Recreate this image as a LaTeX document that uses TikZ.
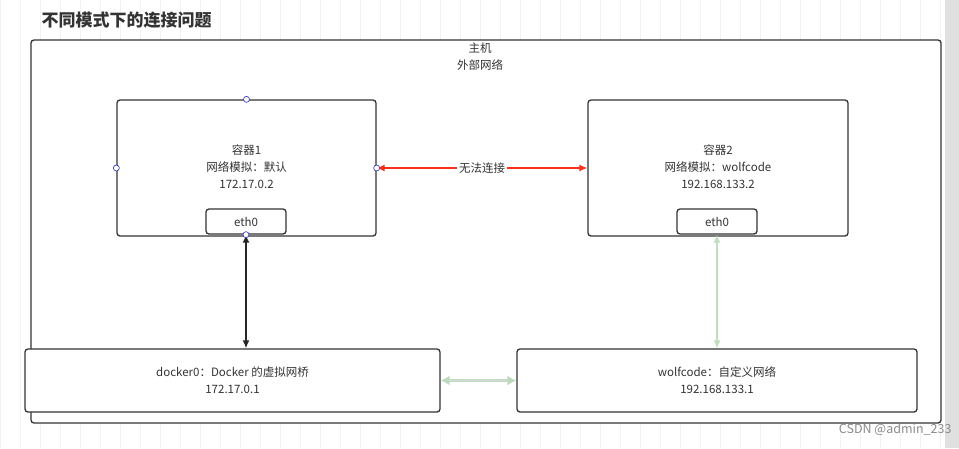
\documentclass[tikz,border=0pt]{standalone}
\usepackage{fontspec}
\setmainfont{Noto Sans CJK SC}
\usetikzlibrary{arrows.meta}
\begin{document}
\begin{tikzpicture}[x=1pt,y=-1pt,
  box/.style={draw=black!80,line width=1.3pt,rounded corners=3pt,fill=white},
  txt/.style={font=\fontsize{11.5}{17}\selectfont,align=center,text=black!80},
  handle/.style={circle,draw=blue!50!gray,fill=white,inner sep=0pt,minimum size=6pt,line width=0.7pt}]
\useasboundingbox (0,0) rectangle (959,448);
\fill[white] (0,0) rectangle (959,448);
\draw[black!5,step=20] (0,0) grid (959,448);
\fill[black!12] (945,0) rectangle (959,448);
\node[anchor=west,font=\bfseries\fontsize{17}{20}\selectfont,text=black!80] (title) at (38,20) {不同模式下的连接问题};
\draw[box] (31,40) rectangle (941,423);
\node[txt] (host) at (480,57) {主机\\外部网络};
\node[box,minimum width=259,minimum height=136,inner sep=0] (c1) at (246.5,168) {};
\node[txt] at (246.5,167) {容器1\\网络模拟：默认\\172.17.0.2};
\node[box,minimum width=80,minimum height=25,txt] (e1) at (246,221.5) {eth0};
\node[box,minimum width=260,minimum height=136,inner sep=0] (c2) at (718,168) {};
\node[txt] at (718,167) {容器2\\网络模拟：wolfcode\\192.168.133.2};
\node[box,minimum width=80,minimum height=25,txt] (e2) at (717,221.5) {eth0};
\node[box,minimum width=415,minimum height=63,txt] (b1) at (232.5,380.5) {docker0：Docker 的虚拟网桥\\172.17.0.1};
\node[box,minimum width=400,minimum height=63,txt] (b2) at (717,380.5) {wolfcode：自定义网络\\192.168.133.1};
\draw[red!80!orange!90!white,line width=1.3pt,{Latex[length=8pt,width=7pt]}-{Latex[length=8pt,width=7pt]}] (c1.east) -- node[fill=white,txt,inner sep=2pt]{无法连接} (c2.west);
\draw[black!85,line width=1.5pt,{Latex[length=8pt,width=7pt]}-{Latex[length=8pt,width=7pt]}] (e1.south) -- (b1.north -| e1.south);
\draw[green!50!black!25,line width=1.3pt,{Latex[length=8pt,width=7pt]}-{Latex[length=8pt,width=7pt]}] (e2.south) -- (b2.north -| e2.south);
\draw[green!40!black!25,line width=3pt,{Latex[length=9pt,width=10pt]}-{Latex[length=9pt,width=10pt]}] (b1.east) -- (b2.west);
\draw[cyan!30!black!20,line width=1.2pt] ([xshift=8pt]b1.east) -- ([xshift=-8pt]b2.west);
\node[handle] at (c1.north) {};
\node[handle] at (c1.west) {};
\node[handle] at (c1.east) {};
\node[handle] at (e1.south) {};
\node[anchor=east,text=black!45,font=\fontsize{12.5}{14}\selectfont] (wm) at (955,430) {CSDN @admin\_233};
\end{tikzpicture}
\end{document}
